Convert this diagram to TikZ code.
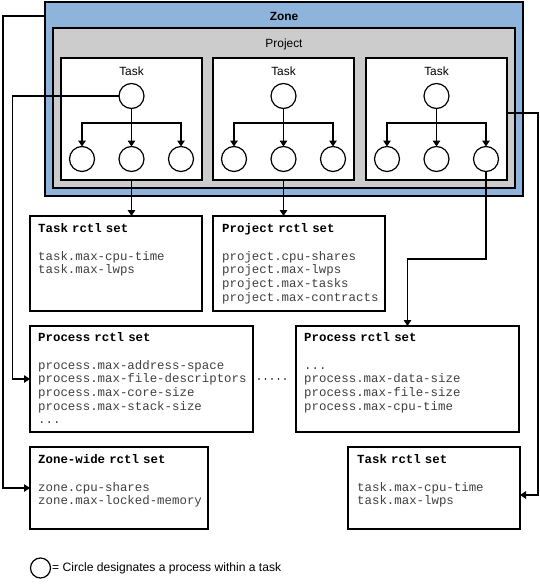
\documentclass[tikz,border=0pt]{standalone}
\usepackage{fontspec}
\setmainfont{Liberation Sans}
\newfontfamily\mymono{Liberation Mono}
\usetikzlibrary{arrows.meta}
\definecolor{zoneblue}{HTML}{8FB4DC}
\definecolor{projgray}{HTML}{CCCCCC}
\definecolor{bodygray}{HTML}{404040}
\begin{document}
\begin{tikzpicture}[x=1pt,y=-1pt,
  zonebox/.style={draw, line width=2pt, fill=zoneblue, outer sep=0pt, inner sep=0pt},
  projbox/.style={draw, line width=1.2pt, fill=projgray, outer sep=0pt, inner sep=0pt},
  taskbox/.style={draw, line width=1.2pt, fill=white, outer sep=0pt, inner sep=0pt, minimum width=141pt, minimum height=122pt},
  proc/.style={circle, draw, line width=1.2pt, fill=white, minimum size=25pt, inner sep=0pt, outer sep=0pt},
  rbox/.style={draw, line width=1.2pt, fill=white, outer sep=0pt, inner sep=0pt},
  conn/.style={line width=1.2pt, -{Triangle[length=6pt,width=7.5pt]}},
  dotline/.style={line width=1.6pt, line cap=round, dash pattern=on 0pt off 6.5pt, shorten <=6pt, shorten >=5pt},
  lbl/.style={font=\fontsize{11.9}{14}\selectfont, inner sep=0pt},
  rtext/.style={font=\mymono\fontsize{12.4}{13.7}\selectfont, anchor=base west, inner sep=0pt, text width=220pt, align=left}
]
\useasboundingbox (0,0) rectangle (539,586);

% Zone and project
\node[zonebox, minimum width=478pt, minimum height=194pt] (zone) at (284,99) {};
\node[lbl, font=\bfseries\fontsize{11.9}{14}\selectfont] (zonelbl) at (284,16) {Zone};
\node[projbox, minimum width=462pt, minimum height=160pt] (proj) at (284,108) {};
\node[lbl] (projlbl) at (284,44) {Project};

% Tasks
\foreach \i/\cx in {1/131.5, 2/283.5, 3/436.5} {
  \node[taskbox] (t\i) at (\cx,119) {};
  \node[lbl] (t\i lbl) at (\cx,71) {Task};
  \node[proc] (c\i0) at (\cx,96) {};
  \node[proc] (c\i1) at (\cx-49.5,159) {};
  \node[proc] (c\i2) at (\cx,159) {};
  \node[proc] (c\i3) at (\cx+49.5,159) {};
  \coordinate (j\i) at (\cx,123);
  \draw[conn] (c\i0.south) -- (c\i2.north);
  \draw[conn] (j\i) -| (c\i1.north);
  \draw[conn] (j\i) -| (c\i3.north);
}

% rctl boxes
\node[rbox, minimum width=172pt, minimum height=95pt] (trs) at (116,263.5) {};
\node[rtext] (trstxt) at (38,232.5) {\textbf{Task rctl set}\\[13.8pt]\color{bodygray}task.max-cpu-time\\task.max-lwps};

\node[rbox, minimum width=172pt, minimum height=95pt] (prs) at (299,263.5) {};
\node[rtext] (prstxt) at (222,232.5) {\textbf{Project rctl set}\\[13.8pt]\color{bodygray}project.cpu-shares\\project.max-lwps\\project.max-tasks\\project.max-contracts};

\node[rbox, minimum width=223pt, minimum height=106pt] (pl) at (141.5,379) {};
\node[rtext] (pltxt) at (38,341.5) {\textbf{Process rctl set}\\[13.8pt]\color{bodygray}process.max-address-space\\process.max-file-descriptors\\process.max-core-size\\process.max-stack-size\\...};

\node[rbox, minimum width=223pt, minimum height=106pt] (pr) at (407.5,379) {};
\node[rtext] (prtxt) at (304,341.5) {\textbf{Process rctl set}\\[13.8pt]\color{bodygray}...\\process.max-data-size\\process.max-file-size\\process.max-cpu-time};

\node[rbox, minimum width=178pt, minimum height=82pt] (zw) at (119,488) {};
\node[rtext] (zwtxt) at (38,463.5) {\textbf{Zone-wide rctl set}\\[13.8pt]\color{bodygray}zone.cpu-shares\\zone.max-locked-memory};

\node[rbox, minimum width=172pt, minimum height=82pt] (trb) at (434,488) {};
\node[rtext] (trbtxt) at (357,463.5) {\textbf{Task rctl set}\\[13.8pt]\color{bodygray}task.max-cpu-time\\task.max-lwps};

% connectors
\draw[conn] (zone.west |- zonelbl) -- ++(-42,0) |- (zw.west);
\draw[conn] (c10.west) -- ++(-106.5,0) |- (pl.west);
\draw[conn] (t1.south) -- (t1.south |- trs.north);
\draw[conn] (t2.south) -- (t2.south |- prs.north);
\draw[conn] (c33.south) |- ([yshift=67pt]pr.north) -- (pr.north);
\draw[conn] ([yshift=6pt]t3.east) -- ++(31,0) |- ([yshift=-7pt]trb.east);
\draw[dotline] (pl.east) -- (pr.west);

% legend
\node[proc, minimum size=20pt] (lc) at (40.5,568) {};
\node[lbl, anchor=west, font=\fontsize{12.1}{14}\selectfont] (lt) at ([xshift=1.5pt]lc.east) {= Circle designates a process within a task};
\end{tikzpicture}
\end{document}
